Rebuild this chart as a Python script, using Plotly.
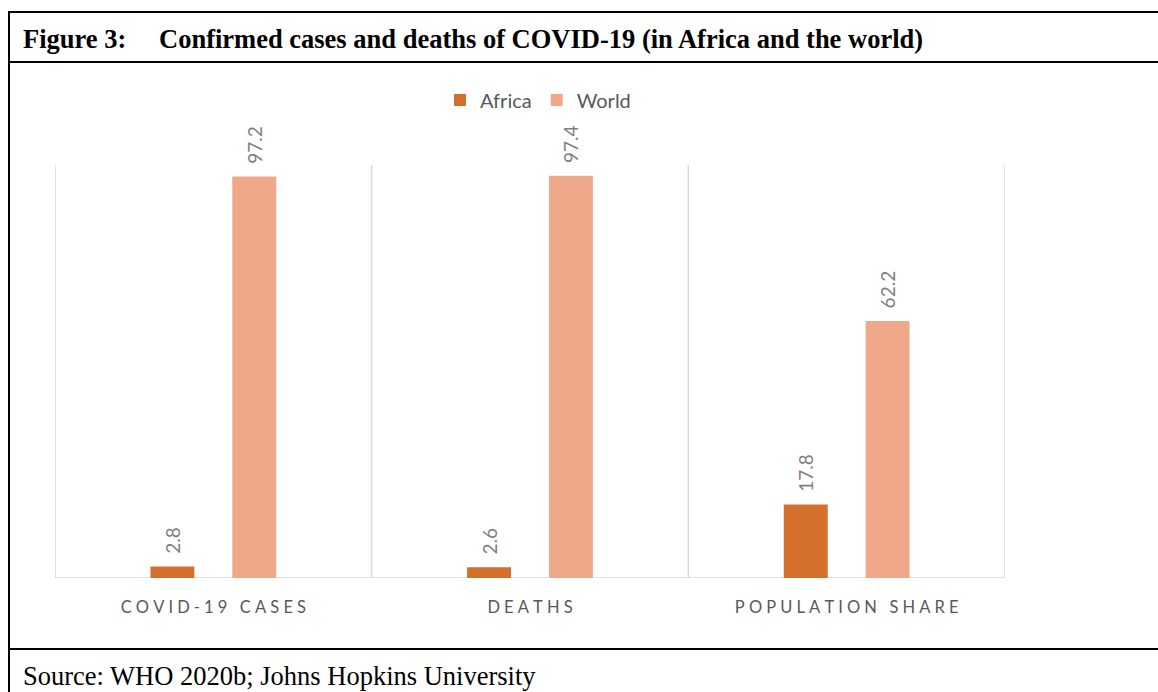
import plotly.graph_objects as go

categories = ["COVID-19 CASES", "DEATHS", "POPULATION SHARE"]
africa = [2.8, 2.6, 17.8]
world = [97.2, 97.4, 62.2]
series_names = ["Africa", "World"]
colors = ["#D4702B", "#F0A88B"]

W, H = 1158, 692
L, R, T, B = 55, 1005, 165, 578  # plot area in px


def px_x(x):
    return (x - L) / (R - L)


def px_y(y):
    return (B - y) / (B - T)


def spaced(s):
    return "\u2009\u2009".join(list(s))


fig = go.Figure()
for name, vals, col in zip(series_names, [africa, world], colors):
    fig.add_trace(go.Bar(
        name=name, x=list(range(len(categories))), y=vals,
        marker=dict(color=col, line=dict(width=0)),
        texttemplate="\u00a0\u00a0%{y:.1f}", textposition="outside", textangle=-90,
        textfont=dict(family="Lato", size=19, color="#7f7f7f"),
        cliponaxis=False, constraintext="none",
    ))

shapes = []
# vertical gridlines between categories
for xb in [-0.5, 0.5, 1.5, 2.5]:
    shapes.append(dict(type="line", xref="x", yref="y", x0=xb, x1=xb, y0=0, y1=100,
                       line=dict(color="#d9d9d9", width=1.5), layer="below"))
shapes.append(dict(type="line", xref="x", yref="y", x0=-0.5, x1=2.5, y0=0, y1=0,
                   line=dict(color="#d9d9d9", width=1.5), layer="below"))
# page borders
blk = dict(color="black", width=2)
shapes.append(dict(type="line", xref="paper", yref="paper", x0=px_x(9), x1=px_x(1160),
                   y0=px_y(12), y1=px_y(12), line=blk))
shapes.append(dict(type="line", xref="paper", yref="paper", x0=px_x(9), x1=px_x(1160),
                   y0=px_y(62), y1=px_y(62), line=blk))
shapes.append(dict(type="line", xref="paper", yref="paper", x0=px_x(9), x1=px_x(1160),
                   y0=px_y(649), y1=px_y(649), line=blk))
shapes.append(dict(type="line", xref="paper", yref="paper", x0=px_x(9), x1=px_x(9),
                   y0=px_y(11), y1=px_y(700), line=blk))

serif = dict(family="Liberation Serif", size=26.5, color="black")
annotations = [
    dict(text="<b>Figure 3:</b>", xref="paper", yref="paper", x=px_x(21), y=px_y(39),
         xanchor="left", yanchor="middle", showarrow=False, font=serif),
    dict(text="<b>Confirmed cases and deaths of COVID-19 (in Africa and the world)</b>",
         xref="paper", yref="paper", x=px_x(157), y=px_y(39),
         xanchor="left", yanchor="middle", showarrow=False, font=serif),
    dict(text="Source: WHO 2020b; Johns Hopkins University", xref="paper", yref="paper",
         x=px_x(21), y=px_y(676), xanchor="left", yanchor="middle", showarrow=False,
         font=serif),
]

fig.update_layout(
    width=W, height=H,
    margin=dict(l=L, r=W - R, t=T, b=H - B, pad=0),
    paper_bgcolor="white", plot_bgcolor="white",
    barmode="group", bargap=0.483, bargroupgap=0.463,
    xaxis=dict(range=[-0.5, 2.5], tickmode="array", tickvals=list(range(len(categories))),
               ticktext=[spaced(c) for c in categories], showgrid=False, zeroline=False,
               showline=False, ticks="", tickfont=dict(family="Lato", size=16.5, color="#595959"),
               ticklabelstandoff=17),
    yaxis=dict(range=[0, 100], visible=False, showgrid=False, zeroline=False),
    legend=dict(orientation="h", x=px_x(538), y=px_y(100), xanchor="center", yanchor="middle",
                font=dict(family="Lato", size=20, color="#595959"), itemwidth=30,
                traceorder="normal", itemsizing="constant", bgcolor="rgba(0,0,0,0)"),
    shapes=shapes, annotations=annotations,
    font=dict(family="Lato"),
)

fig.write_html("out.html", config={"displayModeBar": False},
               post_script="document.body.style.margin='0';document.body.style.overflow='hidden';")
